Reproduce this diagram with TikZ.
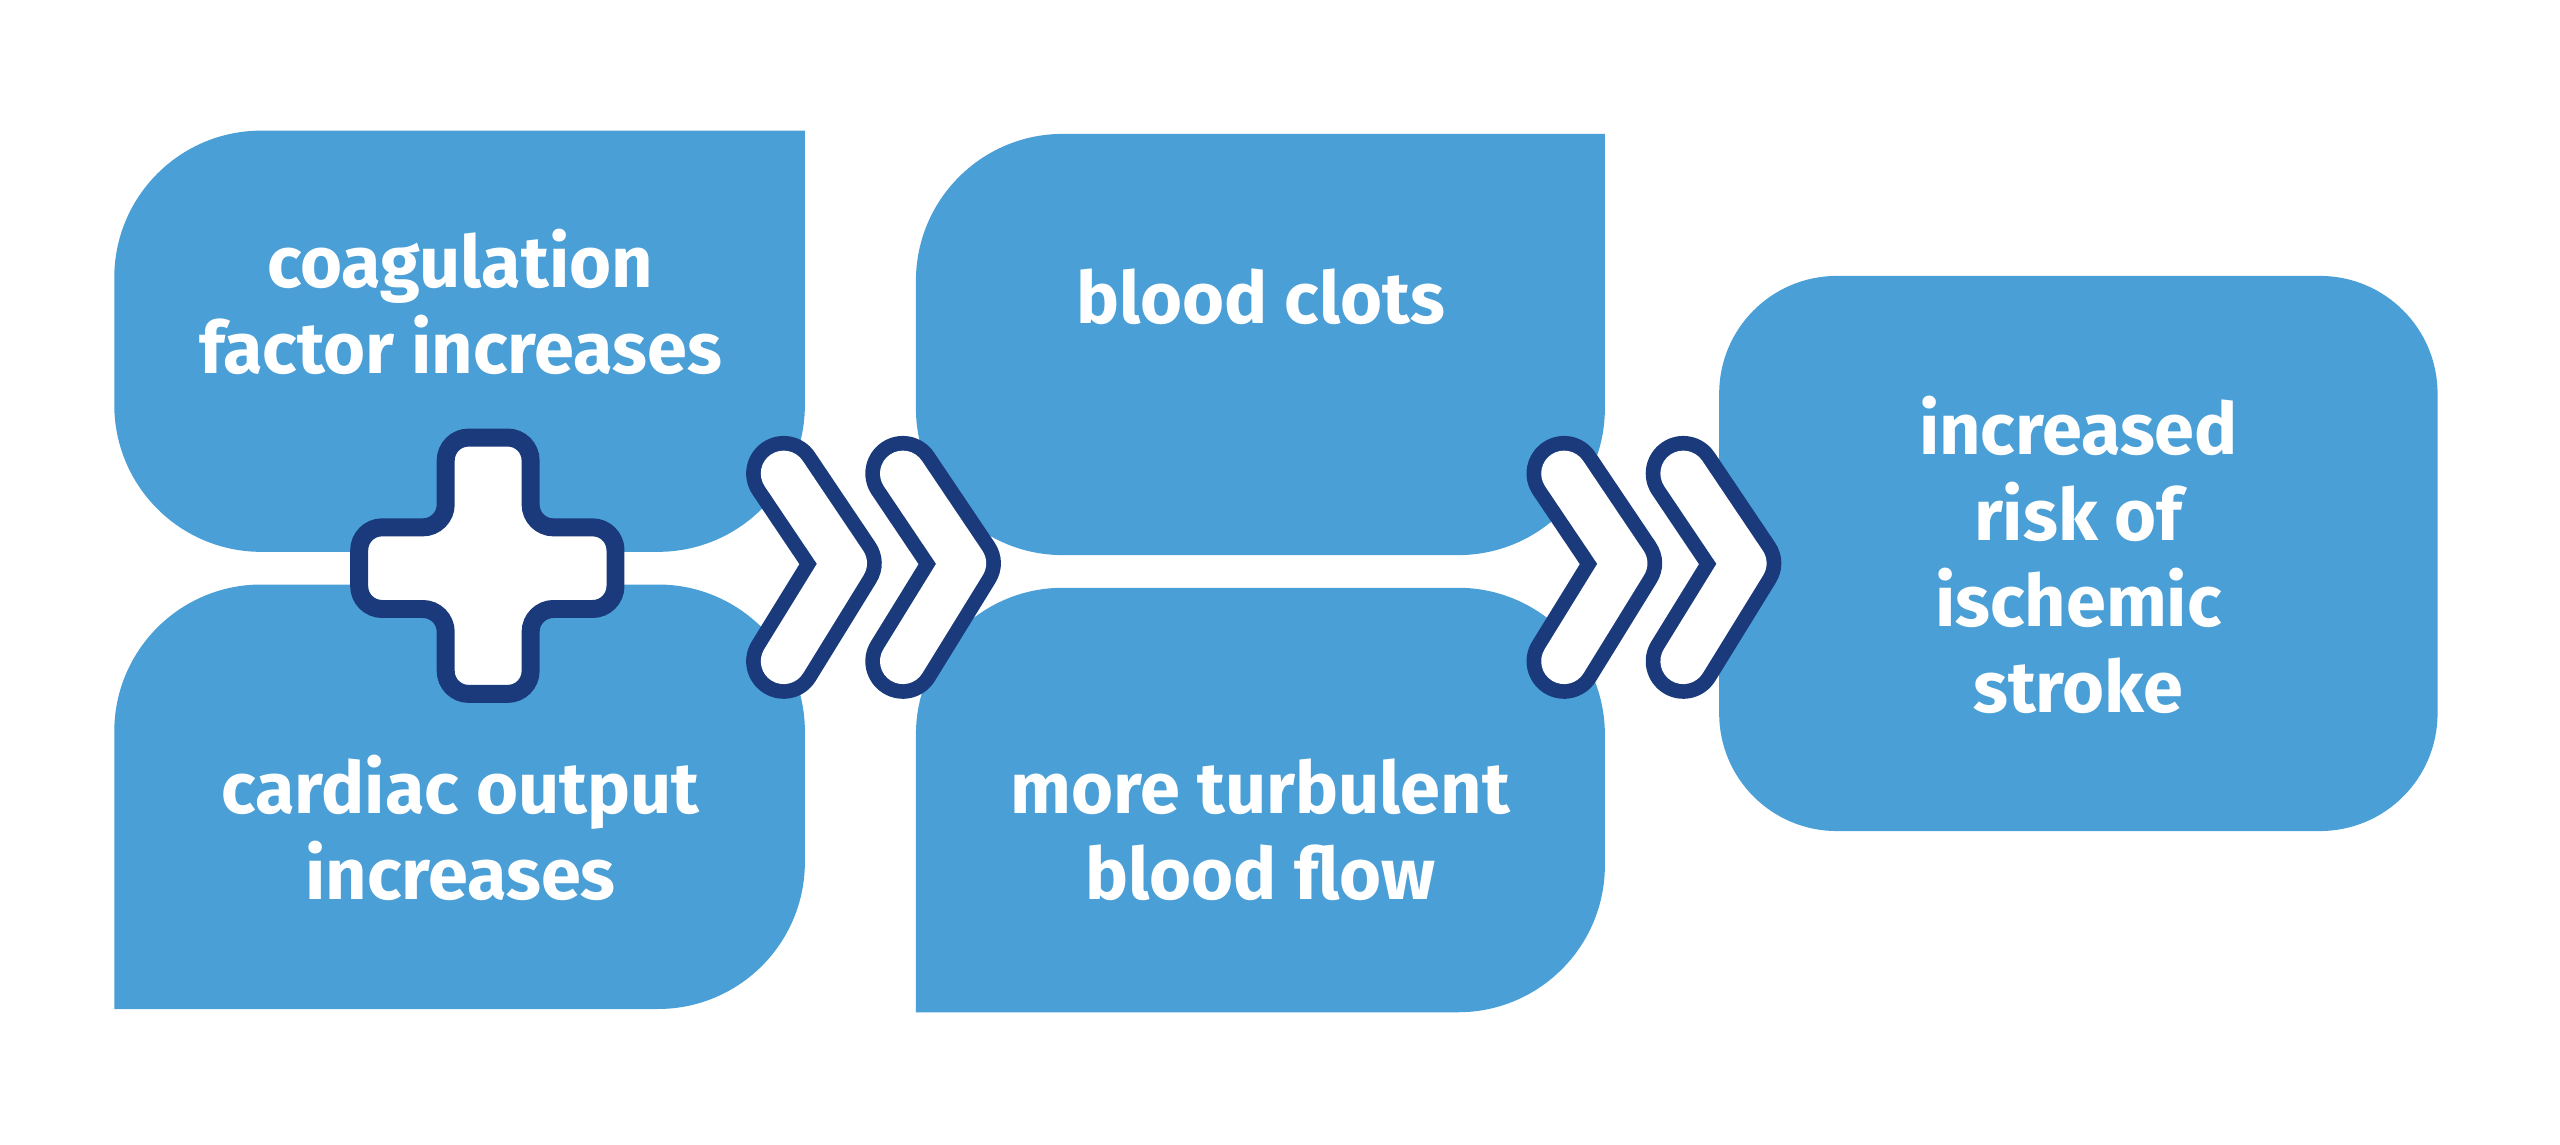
\documentclass[tikz,border=0pt]{standalone}
\usepackage{fontspec}
\setmainfont{Fira Sans}
\usetikzlibrary{calc}
\definecolor{boxblue}{HTML}{4A9FD6}
\definecolor{darknavy}{HTML}{1A3A7C}
\newcommand{\unitpx}{*0.01633cm}
\tikzset{
  box/.style={fill=boxblue,draw=none},
  lbl/.style={text=white,font=\fontsize{20.5}{24.5}\selectfont\bfseries,align=center},
  chevout/.style={line width=46\unitpx,darknavy,line cap=round,line join=round},
  chevin/.style={line width=28\unitpx,white,line cap=round,line join=round}
}
\begin{document}
\begin{tikzpicture}[x=0.01633cm,y=-0.01633cm]
\useasboundingbox (0,0) rectangle (1568,700.7);
% boxes
\fill[box,rounded corners=90\unitpx] (70,338) -- (70,80) [sharp corners] -- (493,80) [rounded corners=90\unitpx] -- (493,338) -- cycle;
\fill[box,rounded corners=90\unitpx] (493,358) -- (493,618) [sharp corners] -- (70,618) [rounded corners=90\unitpx] -- (70,358) -- cycle;
\fill[box,rounded corners=90\unitpx] (561,340) -- (561,82) [sharp corners] -- (983,82) [rounded corners=90\unitpx] -- (983,340) -- cycle;
\fill[box,rounded corners=90\unitpx] (983,360) -- (983,620) [sharp corners] -- (561,620) [rounded corners=90\unitpx] -- (561,360) -- cycle;
\fill[box,rounded corners=72\unitpx] (1053,169) rectangle (1493,509);
% labels
\node[lbl] (coag) at (282,185) {coagulation\\factor increases};
\node[lbl] (card) at (282,507) {cardiac output\\increases};
\node[lbl] (clot) at (772,182) {blood clots};
\node[lbl] (turb) at (772,508) {more turbulent\\blood flow};
\node[lbl] (risk) at (1273,340) {increased\\risk of\\ischemic\\stroke};
% plus sign
\draw[darknavy,fill=white,line width=11\unitpx,rounded corners=14\unitpx]
  (273,268) -- (325,268) -- (325,323) -- (377,323) -- (377,373) -- (325,373)
  -- (325,425) -- (273,425) -- (273,373) -- (220,373) -- (220,323) -- (273,323) -- cycle;
% chevrons
\foreach \cx in {0,73,478,551}{
  \draw[chevout] (480+\cx,290) -- (517+\cx,345) -- (480+\cx,405);
  \draw[chevin] (480+\cx,290) -- (517+\cx,345) -- (480+\cx,405);
}
\end{tikzpicture}
\end{document}
